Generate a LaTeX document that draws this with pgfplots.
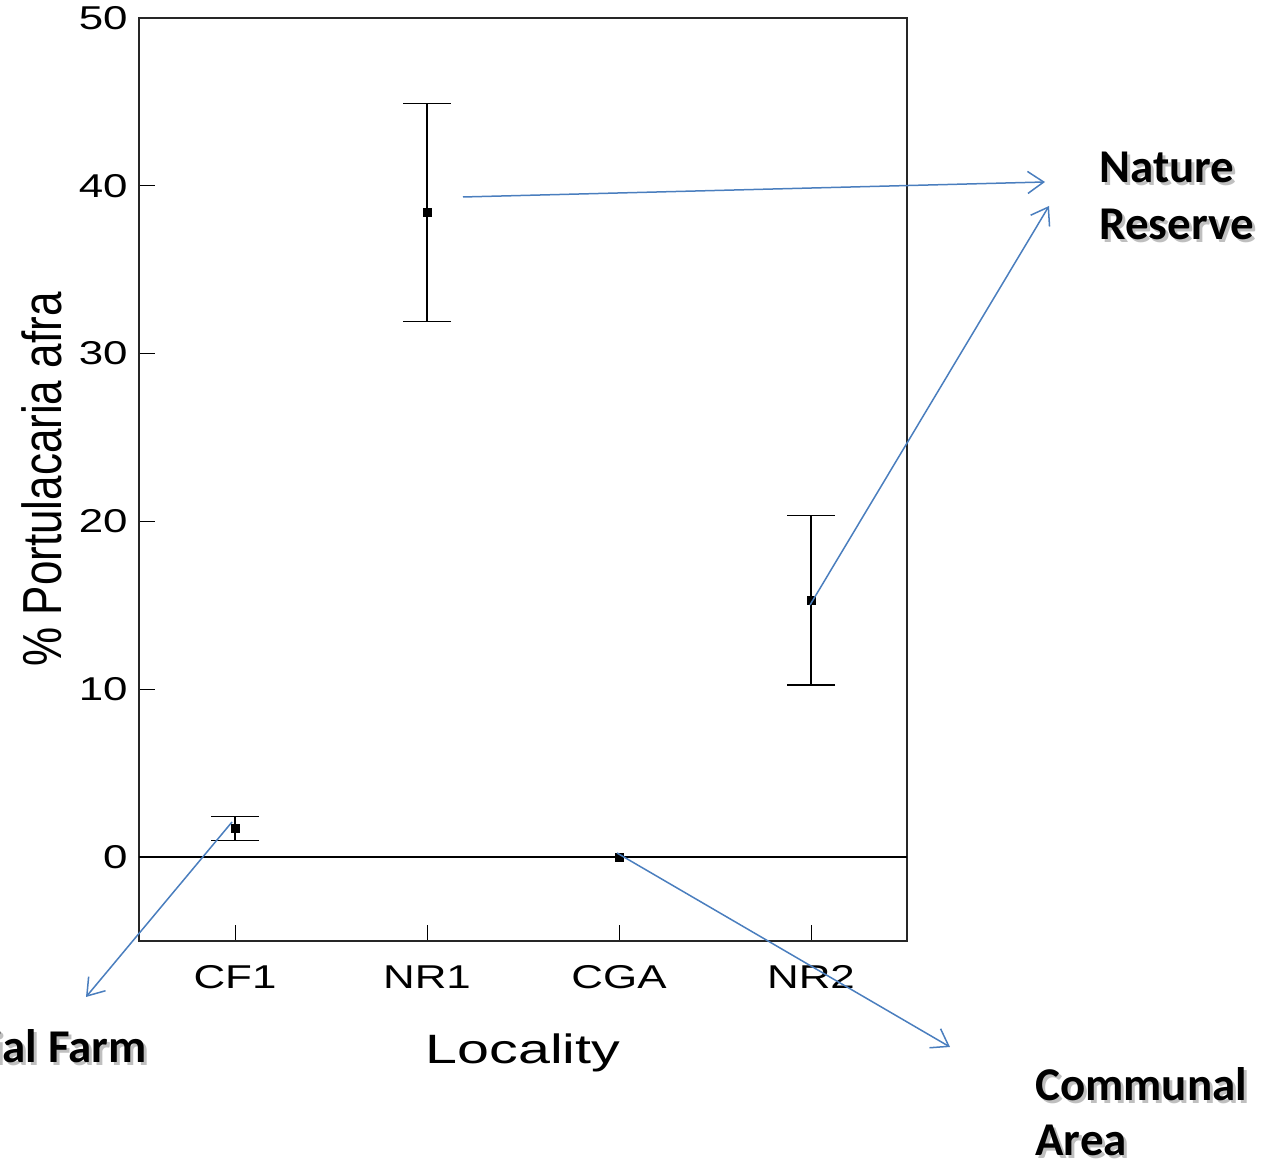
\documentclass[border=0pt]{standalone}
\usepackage{pgfplots}
\pgfplotsset{compat=1.18}
\usepackage{fontspec}
\usepackage{graphicx}
\usetikzlibrary{arrows.meta}
\setmainfont{Liberation Sans}
\newfontfamily\wide[FakeStretch=1.33]{Liberation Sans}
\newfontfamily\widel[FakeStretch=1.4]{Liberation Sans}
\newfontfamily\callout{Carlito}
\definecolor{arrowblue}{RGB}{74,126,190}
\begin{document}
\begin{tikzpicture}
\begin{axis}[
  at={(69.5bp,113bp)}, anchor=south west,
  scale only axis, width=384bp, height=461.5bp,
  xmin=-0.5, xmax=3.5, ymin=-5, ymax=50,
  xtick={0,1,2,3}, xticklabels={CF1,NR1,CGA,NR2},
  ytick={0,10,20,30,40,50},
  xtick pos=bottom, ytick pos=left, tick align=inside,
  major tick length=8bp,
  tick style={line width=0.5bp, black},
  axis line style={line width=0.6bp, black!85},
  /pgf/number format/assume math mode=true,
  tick label style={font=\wide\fontsize{16.5bp}{19bp}\selectfont, inner sep=0pt},
  yticklabel style={anchor=east, xshift=-5.5bp},
  xticklabel style={anchor=north, yshift=-12bp},
  xlabel={Locality},
  xlabel style={font=\widel\fontsize{20.5bp}{24bp}\selectfont, at={(axis description cs:0.5,-0.1322)}, anchor=base, inner sep=0pt},
  ylabel={\scalebox{1}[1.25]{\% Portulacaria afra}},
  ylabel style={font=\fontsize{22bp}{26bp}\selectfont, at={(axis description cs:-0.1003,0.5)}, anchor=base, rotate=0, inner sep=0pt},
  clip=false,
]
\draw[line width=0.6bp, black] (axis cs:-0.5,0) -- (axis cs:3.5,0);
\addplot[only marks, mark=square*, mark size=2bp, black,
  error bars/.cd, y dir=both, y explicit,
  error bar style={line width=0.6bp, black},
  error mark options={rotate=90, mark size=12bp, line width=0.6bp, black}]
  table[x=x, y=y, y error plus=ep, y error minus=em] {
x y ep em
0 1.7 0.7 0.7
1 38.4 6.5 6.5
2 0 0 0
3 15.3 5.05 5.05
};
\end{axis}
\begin{scope}[arrowblue, line width=0.75bp, -{Straight Barb[length=8bp,width=11bp]}]
\draw (231.5bp,485bp) -- (522.5bp,492.5bp);
\draw (405bp,281bp) -- (524.5bp,480.5bp);
\draw (116bp,172.5bp) -- (43bp,85bp);
\draw (308.5bp,157bp) -- (475bp,60bp);
\end{scope}
\begin{scope}[every node/.style={inner sep=0pt, font=\callout\bfseries\fontsize{23.5bp}{28bp}\selectfont}]
\foreach \dx/\dy/\op in {1.5bp/-1.5bp/0.25, 0bp/0bp/1}{
  \node[anchor=base west, text=black, opacity=\op] at ([xshift=\dx,yshift=\dy]549.5bp,492bp) {Nature};
  \node[anchor=base west, text=black, opacity=\op] at ([xshift=\dx,yshift=\dy]549.5bp,463.5bp) {Reserve};
  \node[anchor=base west, text=black, opacity=\op] at ([xshift=\dx,yshift=\dy]517.5bp,33.5bp) {Communal};
  \node[anchor=base west, text=black, opacity=\op] at ([xshift=\dx,yshift=\dy]517.5bp,6bp) {Area};
  \node[anchor=base east, text=black, opacity=\op] at ([xshift=\dx,yshift=\dy]73.5bp,52bp) {Commercial Farm};
}
\end{scope}
\pgfresetboundingbox
\path[use as bounding box] (0bp,0bp) rectangle (636bp,583.5bp);
\end{tikzpicture}
\end{document}
